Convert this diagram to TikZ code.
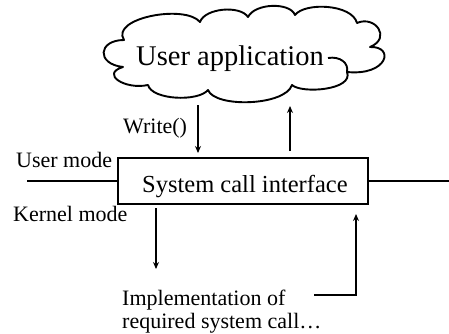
\documentclass[tikz,border=0pt]{standalone}
\usepackage{fontspec}
\setmainfont{Liberation Serif}
\usetikzlibrary{arrows.meta}
\begin{document}
\begin{tikzpicture}[x=1pt,y=-1pt,
  line/.style={line width=1.9pt},
  arr/.style={line width=1.9pt,-{Stealth[length=7pt,width=6pt]}},
  lbl/.style={font=\fontsize{22}{24}\selectfont,inner sep=0pt},
]
\useasboundingbox (0,0) rectangle (449,333);
% cloud
\draw[line width=1.9pt,line join=round]
  (124,40) .. controls (110,18) and (185,4) .. (200,22)
  .. controls (205,8) and (240,5) .. (248,17)
  .. controls (255,3) and (290,2) .. (295,15)
  .. controls (305,2) and (352,4) .. (357,23)
  .. controls (375,15) and (392,38) .. (370,47)
  .. controls (395,46) and (388,76) .. (347,72)
  .. controls (354,90) and (302,94) .. (292,85)
  .. controls (285,106) and (215,108) .. (208,90)
  .. controls (198,102) and (152,100) .. (148,85)
  .. controls (125,90) and (100,74) .. (123,67)
  .. controls (96,64) and (98,40) .. cycle;
\draw[line width=1.9pt] (328,58) .. controls (340,56) and (349,63) .. (347,72);
\node[anchor=base west,inner sep=0pt,font=\fontsize{28.5}{30}\selectfont] (apptext) at (136,65) {User application};
% box
\node[draw,line width=1.9pt,minimum width=250pt,minimum height=46pt,inner sep=0pt] (box) at (243,181) {};
\node[anchor=base west,inner sep=0pt,font=\fontsize{24.5}{26}\selectfont] (boxtext) at (142,192) {System call interface};
% mode line
\coordinate (lineL) at (27,181);
\coordinate (lineR) at (449,181);
\draw[line] (lineL) -- (box.west);
\draw[line] (box.east) -- (lineR);
% labels
\node[lbl,anchor=base west] (umode) at (16,167) {User mode};
\node[lbl,anchor=base west] (kmode) at (13,221) {Kernel mode};
\node[lbl,anchor=base west] (write) at (123,133) {Write()};
\node[lbl,anchor=base west] (impl) at (122,305) {Implementation of};
\node[lbl,anchor=base west] (impl2) at (122,328) {required system call…};
% arrows
\coordinate (w1) at (198,105);
\coordinate (w2) at (198,153);
\draw[arr] (w1) -- (w2);
\coordinate (r1) at (290,151);
\coordinate (r2) at (290,106);
\draw[arr] (r1) -- (r2);
\coordinate (d1) at (156,208);
\coordinate (d2) at (156,269);
\draw[arr] (d1) -- (d2);
\coordinate (u0) at (314,295);
\coordinate (u1) at (356,295);
\coordinate (u2) at (356,214);
\draw[arr] (u0) -- (u1) -- (u2);
\end{tikzpicture}
\end{document}
